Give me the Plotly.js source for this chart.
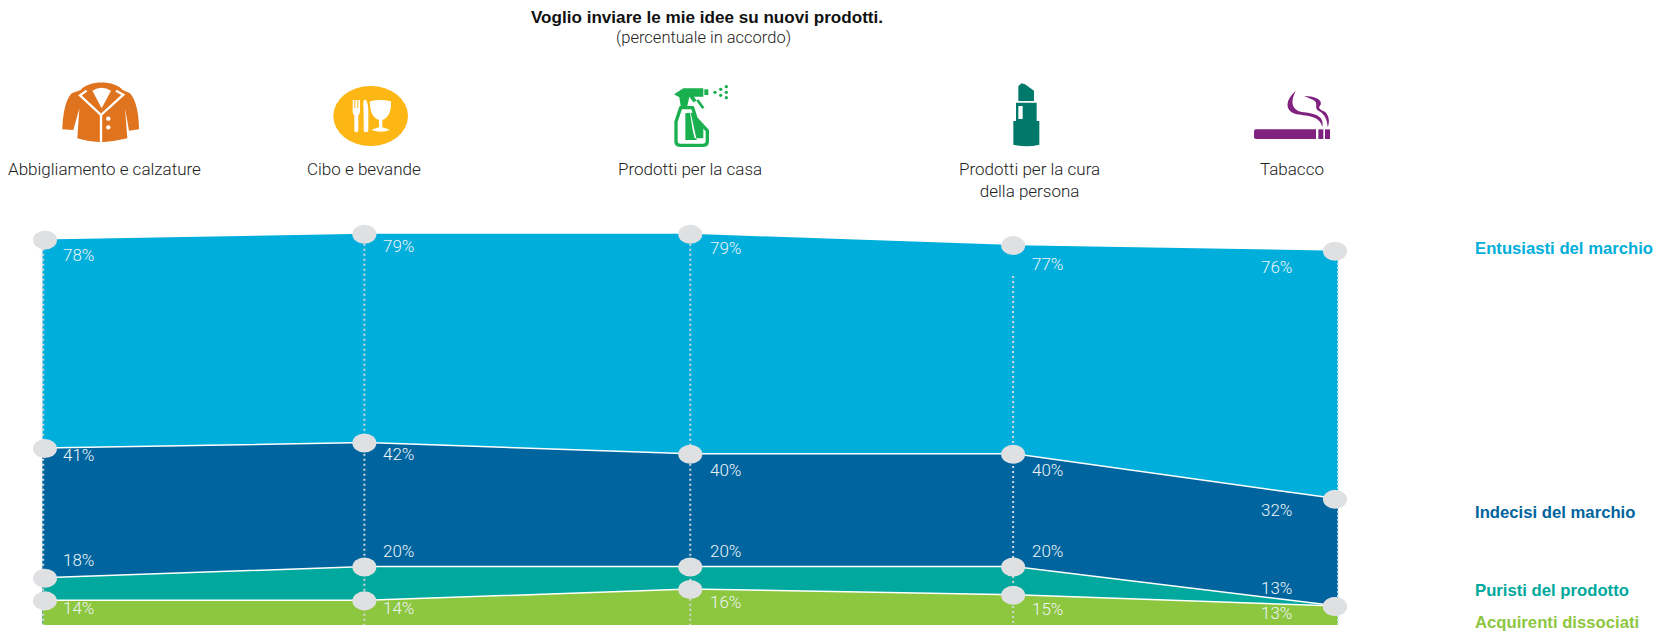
<!DOCTYPE html>
<html>
<head>
<meta charset="utf-8">
<script src="https://cdn.plot.ly/plotly-3.0.1.min.js"></script>
<style>html,body{margin:0;padding:0;background:#fff}#chart{width:1654px;height:633px}</style>
</head>
<body>
<div id="chart"></div>
<script>
// Share of respondents who agree, by product category and shopper segment
const categories = ['Abbigliamento e calzature', 'Cibo e bevande', 'Prodotti per la casa', 'Prodotti per la cura<br>della persona', 'Tabacco'];
const entusiasti = [78, 79, 79, 77, 76];
const indecisi = [41, 42, 40, 40, 32];
const puristi = [18, 20, 20, 20, 13];
const acquirenti = [14, 14, 16, 15, 13];

const W = 1654, H = 633;
const L = 10, R = 1372, T = 200, B = 625;
const FIRST = 42.5, LAST = 1338;   // pixel columns of the first and last category
const STEP = (LAST - FIRST) / 4;
const FONT = '"Liberation Sans", Arial, sans-serif';
const LIGHT = 'Roboto, "Liberation Sans", sans-serif';
const xs = categories.map((_, i) => i);
const px = v => (v - L) / (R - L);
const py = v => 1 - (v - T) / (B - T);

// Draw order runs from the tallest band down, so each band overpaints the one before
const bands = [
  {name: 'Entusiasti del marchio', values: entusiasti, color: '#00AEDB', edge: 'rgba(255,255,255,0)', legendY: 249,
   dy: [17, 13, 15, 20, 17]},
  {name: 'Indecisi del marchio', values: indecisi, color: '#00649E', edge: '#ffffff', legendY: 512,
   dy: [8, 13, 17, 17, 12]},
  {name: 'Puristi del prodotto', values: puristi, color: '#00A89D', edge: '#ffffff', legendY: 590,
   dy: [-17, -15, -15, -15, -17]},
  {name: 'Acquirenti dissociati', values: acquirenti, color: '#8DC63F', edge: '#ffffff', legendY: 622,
   dy: [9, 9, 14, 15, 8]}
];
const labelDx = [36, 32, 35, 33, -62];
const markerNudge = [2.5, -2, 0, -1, -3];
const guideNudge = [0.5, -2, 0, -1, 0];
const guideTop = [79, 79, 79, 71.5, 76];

const traces = bands.map(b => ({
  type: 'scatter', mode: 'lines', name: b.name, x: xs, y: b.values,
  fill: 'tozeroy', fillcolor: b.color, line: {color: b.edge, width: 1.5},
  hovertemplate: '%{y}%<extra>' + b.name + '</extra>'
}));

// Dotted guides first, then the grey ellipses sitting on every value
const shapes = [];
xs.forEach(i => {
  shapes.push({type: 'line', xref: 'x', yref: 'y', xsizemode: 'pixel', xanchor: i,
    x0: guideNudge[i], x1: guideNudge[i], y0: guideTop[i], y1: 9.63,
    line: {color: i === 4 ? '#cfe6f2' : '#d3d6da', width: i === 0 ? 2.5 : 2, dash: i === 4 ? '2px 2px' : '2px 3px'}});
});
bands.forEach(b => b.values.forEach((v, i) => {
  shapes.push({type: 'circle', xref: 'x', yref: 'y', xsizemode: 'pixel', ysizemode: 'pixel',
    xanchor: i, yanchor: v, x0: -12 + markerNudge[i], x1: 12 + markerNudge[i], y0: -10, y1: 9,
    fillcolor: '#DFE0E2', line: {width: 0}});
}));

const annotations = [];
bands.forEach(b => {
  b.values.forEach((v, i) => annotations.push({
    x: i, y: v, xref: 'x', yref: 'y', text: v + '%', showarrow: false,
    xanchor: 'center', yanchor: 'middle', xshift: labelDx[i], yshift: -b.dy[i] + 1,
    font: {family: LIGHT, size: 17, weight: 300, color: '#eef5f8'}
  }));
  annotations.push({
    xref: 'paper', yref: 'paper', x: px(1473), y: py(b.legendY), text: '<b>' + b.name + '</b>',
    showarrow: false, xanchor: 'left', yanchor: 'middle',
    font: {family: FONT, size: 16.7, color: b.color}
  });
});
const categoryCentres = [104, 364, 690, 1029, 1292];
categories.forEach((c, i) => annotations.push({
  xref: 'paper', yref: 'paper', x: px(categoryCentres[i]), y: py(157), text: c, showarrow: false,
  xanchor: 'center', yanchor: 'top', align: 'center',
  font: {family: LIGHT, size: 17, weight: 300, color: '#222222'}
}));
annotations.push({
  xref: 'paper', yref: 'paper', x: px(703.5), y: py(37), text: '(percentuale in accordo)', showarrow: false,
  xanchor: 'center', yanchor: 'middle',
  font: {family: LIGHT, size: 16.5, weight: 300, color: '#222222'}
});

// Product pictograms, each in its own local drawing space
const svg = (w, h, body) => 'data:image/svg+xml;utf8,' + encodeURIComponent(
  `<svg xmlns="http://www.w3.org/2000/svg" viewBox="0 0 ${w} ${h}" width="${w}" height="${h}">${body}</svg>`);
const coat = svg(390, 240, `
  <path fill="#E0731E" d="M152 60C175 30 255 30 278 60L300 70C320 90 327 140 327 178L297 182L285 115L292 205Q255 214 222 216L207 216Q170 214 142 205L148 115L130 180L97 178C98 140 105 90 125 70Z"/>
  <path fill="#fff" d="M187 62Q215 45 243 62L215 115Z"/>
  <path fill="none" stroke="#fff" stroke-width="7" d="M170 62L150 76L213 135L213 218M258 62L280 74L213 135"/>
  <circle cx="235" cy="146" r="6.5" fill="#fff"/><circle cx="235" cy="172" r="6.5" fill="#fff"/>`);
const food = svg(390, 240, `
  <ellipse cx="182" cy="138" rx="112" ry="90" fill="#FDB714"/>
  <path fill="#fff" d="M128 90H133V115H136V90H142V115H145V90H150V125Q150 133 145 135V180Q145 187 139 187Q133 187 133 180V135Q128 133 128 125Z"/>
  <path fill="#fff" d="M160 95Q162 88 168 90Q175 100 175 130V180Q175 187 168 187Q161 187 161 180V145Z"/>
  <path fill="#fff" d="M180 94Q212 86 243 94Q245 140 217 150V172Q230 175 240 180Q212 190 184 180Q194 175 207 172V150Q178 140 180 94Z"/>`);
const spray = svg(300, 240, `
  <path fill="#1BB04F" d="M72 73L100 55H160V80H132L140 92L130 97L118 80L112 108H92L88 82Z"/>
  <rect x="163" y="58" width="12" height="17" fill="#1BB04F"/>
  <path fill="none" stroke="#1BB04F" stroke-width="8" d="M142 90L160 115"/>
  <circle cx="195" cy="67" r="5" fill="#1BB04F"/><circle cx="212" cy="58" r="5" fill="#1BB04F"/><circle cx="212" cy="76" r="5" fill="#1BB04F"/>
  <circle cx="229" cy="50" r="5" fill="#1BB04F"/><circle cx="229" cy="67" r="5" fill="#1BB04F"/><circle cx="229" cy="83" r="5" fill="#1BB04F"/>
  <path fill="none" stroke="#1BB04F" stroke-width="10" stroke-linejoin="round" d="M92 113H128L138 145L172 182V214Q172 226 160 226H90Q78 226 78 214V155Z"/>
  <path fill="#1BB04F" d="M106 130L120 128L128 180L134 205H160V170L134 145L130 128L122 128L140 210H106Z"/>`);
const lipstick = svg(240, 240, `
  <path fill="#00796B" d="M115 93V48L125 40L135 43L162 62V93Z"/>
  <path fill="#00796B" fill-rule="evenodd" d="M108 98H170V153H178V224Q140 234 100 224V153H108ZM115 108V147H128V108Z"/>`);
const tobacco = svg(330, 240, `
  <path fill="#80207F" d="M78 178H258V207H78Q72 207 72 200V185Q72 178 78 178Z"/>
  <rect x="265" y="178" width="15" height="29" fill="#80207F"/><rect x="285" y="178" width="15" height="29" fill="#80207F"/>
  <path fill="#80207F" d="M197 63C165 90 165 122 195 131C225 138 272 135 277 172C285 135 250 130 215 126C185 120 180 95 197 63Z"/>
  <path fill="#80207F" d="M222 78C250 78 278 88 272 104C262 114 270 118 285 125C300 140 298 160 293 172C292 150 285 132 265 122C250 112 268 100 250 90Z"/>`);
const image = (source, left, top, w, h) => ({
  source, xref: 'paper', yref: 'paper', x: px(left), y: py(top),
  sizex: w / (R - L), sizey: h / (B - T), sizing: 'stretch', xanchor: 'left', yanchor: 'top', layer: 'above'
});
const images = [
  image(coat, 30, 70, 130, 80),
  image(food, 310, 70, 130, 80),
  image(spray, 650, 70, 100, 80),
  image(lipstick, 980, 70, 80, 80),
  image(tobacco, 1230, 70, 110, 80)
];

const layout = {
  width: W, height: H, showlegend: false, hovermode: 'closest',
  paper_bgcolor: '#ffffff', plot_bgcolor: '#ffffff',
  margin: {l: L, r: W - R, t: T, b: H - B, pad: 0},
  title: {
    text: '<b>Voglio inviare le mie idee su nuovi prodotti.</b>',
    x: 707 / W, xref: 'container', xanchor: 'center',
    y: 1 - 17 / H, yref: 'container', yanchor: 'middle',
    font: {family: FONT, size: 17.1, color: '#111111'}
  },
  // Both ends of the x axis run past the first and last category so end markers are not clipped
  xaxis: {range: [(L - FIRST) / STEP, 4 + (R - LAST) / STEP], visible: false, fixedrange: true},
  yaxis: {range: [9.63, 85], visible: false, fixedrange: true},
  shapes, annotations, images
};
Plotly.newPlot('chart', traces, layout, {displayModeBar: false, responsive: false});
</script>
</body>
</html>
